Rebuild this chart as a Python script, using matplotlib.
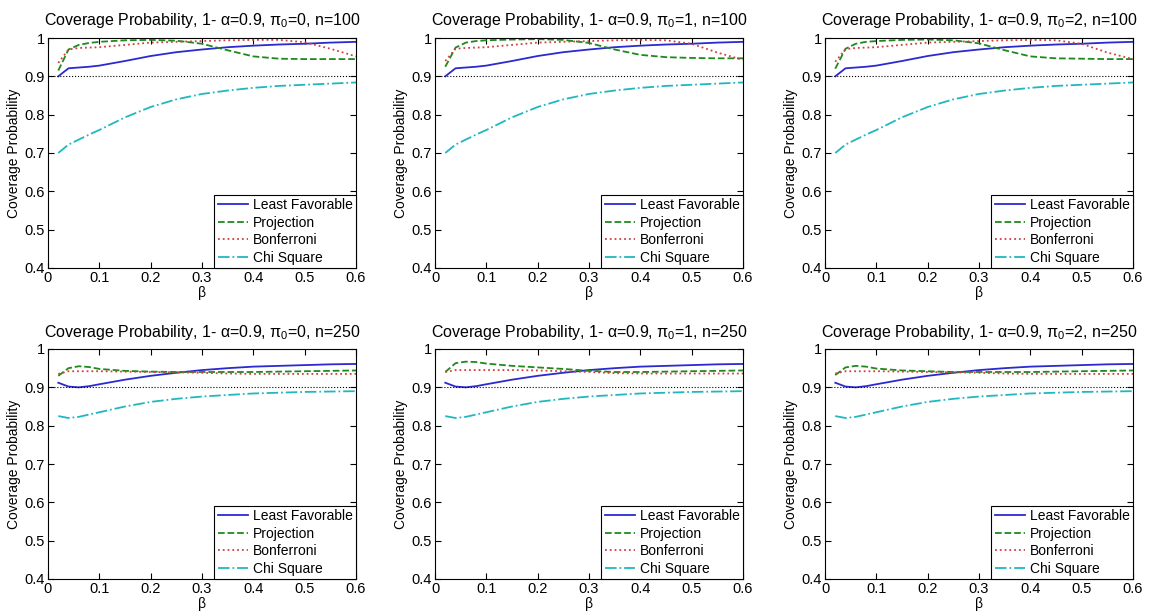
import matplotlib
matplotlib.use("Agg")
import matplotlib.pyplot as plt

plt.rcParams['font.family'] = ['Liberation Sans', 'DejaVu Sans']
plt.rcParams['mathtext.fontset'] = 'custom'
plt.rcParams['mathtext.rm'] = 'Liberation Sans'
plt.rcParams['mathtext.it'] = 'Liberation Sans'

# beta grid shared by every panel
beta = [0.02, 0.04, 0.06, 0.08, 0.1, 0.15, 0.2, 0.25, 0.3, 0.35, 0.4, 0.45, 0.5, 0.55, 0.6]

# n = 100
lf_100 = [0.900, 0.921, 0.923, 0.925, 0.928, 0.940, 0.953, 0.963, 0.970, 0.976, 0.980, 0.983, 0.985, 0.988, 0.990]
proj_100_0 = [0.915, 0.970, 0.982, 0.987, 0.990, 0.994, 0.995, 0.993, 0.985, 0.968, 0.952, 0.946, 0.945, 0.945, 0.945]
bonf_100_0 = [0.935, 0.970, 0.974, 0.975, 0.976, 0.982, 0.988, 0.990, 0.992, 0.994, 0.995, 0.995, 0.989, 0.972, 0.952]
proj_100_1 = [0.925, 0.975, 0.988, 0.992, 0.994, 0.996, 0.997, 0.995, 0.987, 0.970, 0.956, 0.950, 0.948, 0.947, 0.947]
bonf_100_1 = [0.940, 0.972, 0.974, 0.975, 0.976, 0.982, 0.988, 0.990, 0.992, 0.994, 0.995, 0.994, 0.985, 0.962, 0.943]
proj_100_2 = [0.920, 0.972, 0.985, 0.990, 0.992, 0.995, 0.996, 0.994, 0.986, 0.968, 0.952, 0.947, 0.946, 0.945, 0.945]
bonf_100_2 = [0.938, 0.971, 0.974, 0.975, 0.976, 0.982, 0.988, 0.990, 0.992, 0.994, 0.995, 0.994, 0.985, 0.962, 0.945]
chi_100 = [0.700, 0.722, 0.735, 0.748, 0.760, 0.793, 0.820, 0.840, 0.854, 0.863, 0.870, 0.875, 0.878, 0.881, 0.884]

# n = 250
lf_250 = [0.912, 0.902, 0.900, 0.903, 0.908, 0.920, 0.930, 0.938, 0.945, 0.950, 0.954, 0.956, 0.958, 0.960, 0.961]
proj_250_0 = [0.930, 0.950, 0.955, 0.953, 0.948, 0.943, 0.941, 0.940, 0.940, 0.940, 0.940, 0.941, 0.942, 0.943, 0.944]
bonf_250_0 = [0.935, 0.942, 0.942, 0.942, 0.942, 0.941, 0.940, 0.939, 0.938, 0.936, 0.935, 0.935, 0.935, 0.935, 0.935]
proj_250_1 = [0.940, 0.963, 0.967, 0.966, 0.962, 0.956, 0.952, 0.948, 0.943, 0.940, 0.940, 0.941, 0.942, 0.943, 0.944]
bonf_250_1 = [0.940, 0.945, 0.945, 0.945, 0.945, 0.945, 0.944, 0.942, 0.940, 0.937, 0.936, 0.936, 0.936, 0.936, 0.936]
proj_250_2 = [0.932, 0.952, 0.956, 0.954, 0.949, 0.944, 0.942, 0.940, 0.940, 0.940, 0.940, 0.941, 0.942, 0.943, 0.944]
bonf_250_2 = [0.936, 0.942, 0.942, 0.942, 0.942, 0.941, 0.940, 0.939, 0.938, 0.936, 0.935, 0.935, 0.935, 0.935, 0.935]
chi_250 = [0.825, 0.820, 0.823, 0.829, 0.835, 0.850, 0.862, 0.870, 0.876, 0.880, 0.884, 0.886, 0.888, 0.889, 0.890]

nominal = 0.9
x_ticks = [0, 0.1, 0.2, 0.3, 0.4, 0.5, 0.6]
x_ticklabels = ['0', '0.1', '0.2', '0.3', '0.4', '0.5', '0.6']
y_ticks = [0.4, 0.5, 0.6, 0.7, 0.8, 0.9, 1.0]
y_ticklabels = ['0.4', '0.5', '0.6', '0.7', '0.8', '0.9', '1']

methods = ['Least Favorable', 'Projection', 'Bonferroni', 'Chi Square']
styles = [
    {'color': '#2a2ad0', 'linestyle': '-', 'linewidth': 1.3},
    {'color': '#1e8a1e', 'linestyle': '--', 'linewidth': 1.3},
    {'color': '#d04040', 'linestyle': ':', 'linewidth': 1.3},
    {'color': '#20b8c0', 'linestyle': '-.', 'linewidth': 1.3},
]

# (pi0, n, series) for each panel, row by row
panels = [
    (0, 100, [lf_100, proj_100_0, bonf_100_0, chi_100]),
    (1, 100, [lf_100, proj_100_1, bonf_100_1, chi_100]),
    (2, 100, [lf_100, proj_100_2, bonf_100_2, chi_100]),
    (0, 250, [lf_250, proj_250_0, bonf_250_0, chi_250]),
    (1, 250, [lf_250, proj_250_1, bonf_250_1, chi_250]),
    (2, 250, [lf_250, proj_250_2, bonf_250_2, chi_250]),
]

W, H = 1151, 613
fig = plt.figure(figsize=(W / 100, H / 100), dpi=100)

lefts = [48, 435, 825]
tops = [38, 349]
ax_w, ax_h = 308, 230

for i, (pi0, n, series) in enumerate(panels):
    left = lefts[i % 3]
    top = tops[i // 3]
    ax = fig.add_axes([left / W, 1 - (top + ax_h) / H, ax_w / W, ax_h / H])

    for label, vals, st in zip(methods, series, styles):
        ax.plot(beta, vals, label=label, **st)
    ax.axhline(nominal, color='black', linestyle=':', linewidth=0.8)

    ax.set_xlim(0, 0.6)
    ax.set_ylim(0.4, 1.0)
    ax.set_xticks(x_ticks)
    ax.set_xticklabels(x_ticklabels)
    ax.set_yticks(y_ticks)
    ax.set_yticklabels(y_ticklabels)
    ax.tick_params(direction='in', top=True, right=True, labelsize=10.5, length=4)
    ax.tick_params(axis='x', pad=2.5)
    ax.tick_params(axis='y', pad=2.5)
    for sp in ax.spines.values():
        sp.set_linewidth(0.8)

    ax.set_title(r'Coverage Probability, 1- $\alpha$=0.9, $\pi_0$=%d, n=%d' % (pi0, n),
                 fontsize=11.5, pad=9)
    ax.set_xlabel(r'$\beta$', fontsize=10, labelpad=-1)
    ax.set_ylabel('Coverage Probability', fontsize=10, labelpad=2)

    leg = ax.legend(loc='lower right', fontsize=10, borderaxespad=0, fancybox=False,
                    framealpha=1, edgecolor='black', handlelength=2.2,
                    handletextpad=0.3, labelspacing=0.25, borderpad=0.25)
    leg.get_frame().set_linewidth(0.8)

fig.savefig('out.png', dpi=100)
